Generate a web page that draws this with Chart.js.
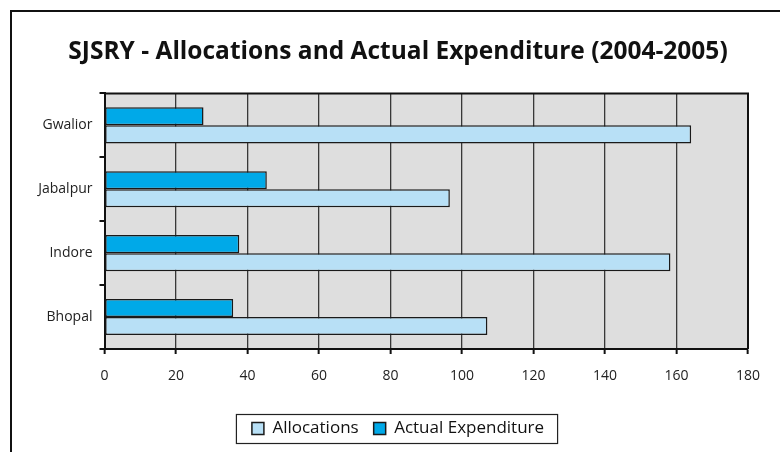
<!DOCTYPE html>
<html>
<head>
<meta charset="utf-8">
<title>SJSRY</title>
<script src="https://cdn.jsdelivr.net/npm/chart.js@4.4.1/dist/chart.umd.min.js"></script>
<style>
    html, body { margin: 0; padding: 0; background: #fff; overflow: hidden; }
    body { width: 780px; height: 452px; position: relative; }
    .cadre { position: absolute; left: 10px; top: 10px; width: 800px; height: 500px; border-left: 2.5px solid #111; border-top: 2.5px solid #111; }
    .divGraphique { position: absolute; left: 0; top: 0; width: 760px; height: 452px; }
</style>
</head>
<body>
<div class="cadre"></div>
<div class="divGraphique">
    <canvas id="GraphiqueSJSRY" width="760" height="452"></canvas>
</div>
<script>
var villes = ["Gwalior", "Jabalpur", "Indore", "Bhopal"];
var allocations = [164.1, 96.6, 158.3, 107.1];
var depenses = [27.7, 45.4, 37.7, 36.0];
var graduations = [0, 20, 40, 60, 80, 100, 120, 140, 160, 180];

var police = "'Open Sans', 'Noto Sans', sans-serif";

// fond gris de la zone (avant la grille) + cadre noir haut/droite
var fondZone = {
    id: 'fondZone',
    beforeDraw: function (chart) {
        var a = chart.chartArea, ctx = chart.ctx;
        ctx.save();
        ctx.fillStyle = '#dedede';
        ctx.fillRect(a.left, a.top, a.right - a.left, a.bottom - a.top);
        ctx.restore();
    },
    afterDatasetsDraw: function (chart) {
        var a = chart.chartArea, ctx = chart.ctx;
        ctx.save();
        ctx.strokeStyle = '#111';
        ctx.lineWidth = 2;
        ctx.beginPath();
        ctx.moveTo(a.left, a.top);
        ctx.lineTo(a.right, a.top);
        ctx.lineTo(a.right, a.bottom);
        ctx.stroke();
        ctx.restore();
    }
};

// cadre autour de la legende
var cadreLegende = {
    id: 'cadreLegende',
    afterDraw: function (chart) {
        var boites = chart.legend.legendHitBoxes;
        if (!boites || !boites.length) return;
        var premier = boites[0], dernier = boites[boites.length - 1];
        var ctx = chart.ctx;
        ctx.save();
        ctx.strokeStyle = '#222';
        ctx.lineWidth = 1.2;
        ctx.strokeRect(premier.left - 15.5, premier.top - 5.5, dernier.left + dernier.width - premier.left + 29, premier.height + 12);
        ctx.restore();
    }
};

// grille par graduation, la derniere en noir
function couleurGrille(context) {
    return context.tick && context.tick.value === 180 ? '#111' : '#383838';
}

var ctx = document.getElementById('GraphiqueSJSRY').getContext('2d');

var grafique = new Chart(ctx, {
    type: 'bar',
    data: {
        labels: villes,
        datasets: [
            {
                label: "Actual Expenditure",
                backgroundColor: '#00a9e8',
                borderColor: '#1a1a1a',
                borderWidth: 1.5,
                borderSkipped: false,
                data: depenses
            },
            {
                label: "Allocations",
                backgroundColor: '#b8e0f6',
                borderColor: '#1a1a1a',
                borderWidth: 1.5,
                borderSkipped: false,
                data: allocations
            }
        ]
    },
    options: {
        indexAxis: 'y',
        responsive: false,
        animation: false,
        barPercentage: 1,
        categoryPercentage: 0.565,
        layout: { padding: { left: 36, right: 0, top: 0, bottom: 5 } },
        scales: {
            x: {
                min: 0,
                max: 180,
                afterBuildTicks: function (scale) {
                    scale.ticks = graduations.map(function (v) { return { value: v }; });
                },
                afterFit: function (scale) {
                    scale.height = 56;
                    scale.paddingRight = 12;
                },
                border: { display: true, color: '#111', width: 2 },
                grid: { color: couleurGrille, lineWidth: 1.3, tickLength: 5, tickColor: '#111', tickWidth: 2 },
                ticks: { color: '#222', font: { family: police, size: 14 }, padding: 14 }
            },
            y: {
                afterFit: function (scale) { scale.width = 68.5; },
                border: { display: true, color: '#111', width: 2 },
                grid: { offset: true, drawOnChartArea: false, tickLength: 5, color: '#111', lineWidth: 2 },
                ticks: { color: '#222', font: { family: police, size: 14 }, padding: 7 }
            }
        },
        plugins: {
            title: {
                display: true,
                text: "SJSRY - Allocations and Actual Expenditure (2004-2005)",
                color: '#111',
                font: { family: police, size: 24.5, weight: 'bold' },
                padding: { top: 37, bottom: 27 }
            },
            legend: {
                position: 'bottom',
                reverse: true,
                labels: {
                    color: '#111',
                    font: { family: police, size: 17 },
                    boxWidth: 12,
                    boxHeight: 12,
                    padding: 15
                }
            },
            tooltip: { enabled: false }
        }
    },
    plugins: [fondZone, cadreLegende]
});
</script>
</body>
</html>
